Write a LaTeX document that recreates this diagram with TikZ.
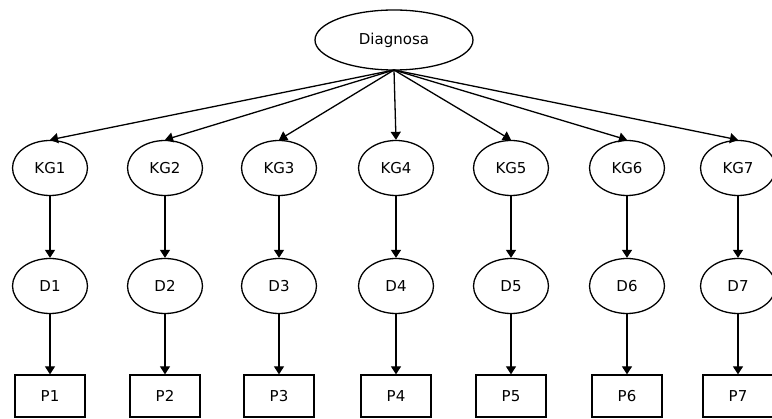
\documentclass[tikz,border=0pt]{standalone}
\usepackage{fontspec}
\setmainfont{DejaVu Sans}
\usetikzlibrary{shapes.geometric,arrows.meta}
\begin{document}
\begin{tikzpicture}[x=1pt,y=-1pt,
  line width=1.3pt,
  font=\fontsize{15}{17}\selectfont,
  root/.style={draw,ellipse,minimum width=158pt,minimum height=60pt,inner sep=0pt},
  oval/.style={draw,ellipse,minimum width=75pt,minimum height=55pt,inner sep=0pt},
  kotak/.style={draw,rectangle,minimum width=70pt,minimum height=42pt,inner sep=0pt},
  panah/.style={-{Triangle[width=10pt,length=8pt]}}]
  \useasboundingbox (0,0) rectangle (772,419);
  % akar
  \node[root] (diag) at (394,40) {Diagnosa};
  \coordinate (pusat) at (394,70);
  % baris kelompok gejala
  \node[oval] (kg1) at (50,168)  {KG1};
  \node[oval] (kg2) at (165,168) {KG2};
  \node[oval] (kg3) at (279,168) {KG3};
  \node[oval] (kg4) at (396,168) {KG4};
  \node[oval] (kg5) at (511,168) {KG5};
  \node[oval] (kg6) at (627,168) {KG6};
  \node[oval] (kg7) at (738,168) {KG7};
  % baris diagnosa
  \node[oval] (d1) at (50,286)  {D1};
  \node[oval] (d2) at (165,286) {D2};
  \node[oval] (d3) at (279,286) {D3};
  \node[oval] (d4) at (396,286) {D4};
  \node[oval] (d5) at (511,286) {D5};
  \node[oval] (d6) at (627,286) {D6};
  \node[oval] (d7) at (738,286) {D7};
  % baris penyakit
  \node[kotak] (p1) at (50,396)  {P1};
  \node[kotak] (p2) at (165,396) {P2};
  \node[kotak] (p3) at (279,396) {P3};
  \node[kotak] (p4) at (396,396) {P4};
  \node[kotak] (p5) at (511,396) {P5};
  \node[kotak] (p6) at (627,396) {P6};
  \node[kotak] (p7) at (738,396) {P7};
  % panah dari akar
  \draw[panah] (pusat) -- (kg1.north);
  \draw[panah] (pusat) -- (kg2.north);
  \draw[panah] (pusat) -- (kg3.north);
  \draw[panah] (pusat) -- (kg4.north);
  \draw[panah] (pusat) -- (kg5.north);
  \draw[panah] (pusat) -- (kg6.north);
  \draw[panah] (pusat) -- (kg7.north);
  % panah ke bawah
  \draw[panah] (kg1) -- (d1);
  \draw[panah] (kg2) -- (d2);
  \draw[panah] (kg3) -- (d3);
  \draw[panah] (kg4) -- (d4);
  \draw[panah] (kg5) -- (d5);
  \draw[panah] (kg6) -- (d6);
  \draw[panah] (kg7) -- (d7);
  \draw[panah] (d1) -- (p1);
  \draw[panah] (d2) -- (p2);
  \draw[panah] (d3) -- (p3);
  \draw[panah] (d4) -- (p4);
  \draw[panah] (d5) -- (p5);
  \draw[panah] (d6) -- (p6);
  \draw[panah] (d7) -- (p7);
\end{tikzpicture}
\end{document}
